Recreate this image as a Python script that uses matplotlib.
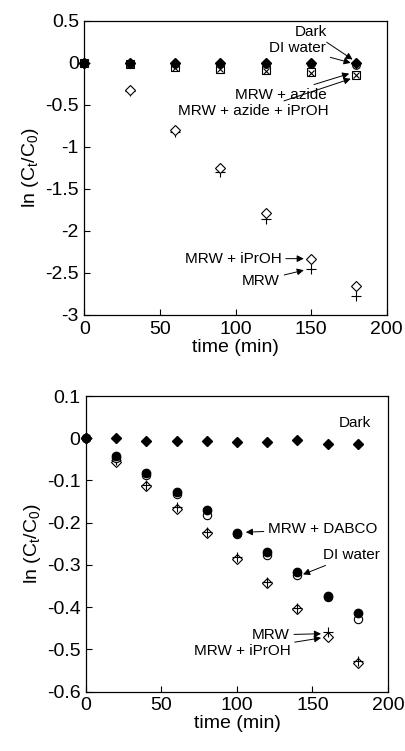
import numpy as np
import matplotlib
matplotlib.use('Agg')
import matplotlib.pyplot as plt

plt.rcParams['font.family'] = ['Liberation Sans', 'DejaVu Sans']
plt.rcParams['mathtext.default'] = 'regular'

# top panel
t_top = [0, 30, 60, 90, 120, 150, 180]
dark_top = [0, 0.0, 0.0, 0.0, 0.0, 0.0, 0.0]
di_top = [0, -0.01, -0.015, -0.02, -0.02, -0.02, -0.03]
azide_top = [0, -0.02, -0.05, -0.08, -0.09, -0.11, -0.14]
azide_ipr_top = [0, -0.02, -0.06, -0.08, -0.10, -0.12, -0.15]
mrw_ipr_top = [0, -0.32, -0.80, -1.25, -1.79, -2.33, -2.66]
mrw_top = [0, -0.33, -0.82, -1.30, -1.86, -2.45, -2.78]

# bottom panel
t_bot = [0, 20, 40, 60, 80, 100, 120, 140, 160, 180]
dark_bot = [0, 0.0, -0.006, -0.006, -0.006, -0.01, -0.008, -0.004, -0.013, -0.013]
dabco_bot = [0, -0.042, -0.083, -0.128, -0.170, -0.224, -0.269, -0.316, -0.374, -0.415]
di_bot = [0, -0.048, -0.086, -0.132, -0.182, -0.226, -0.277, -0.325, -0.376, -0.429]
mrw_bot = [0, -0.052, -0.110, -0.164, -0.222, -0.282, -0.341, -0.402, -0.460, -0.528]
mrw_ipr_bot = [0, -0.056, -0.112, -0.167, -0.225, -0.285, -0.344, -0.405, -0.470, -0.532]

fig = plt.figure(figsize=(4.05, 7.51), dpi=100)
ax1 = fig.add_axes([0.2086, 0.5806, 0.746, 0.3918])
ax2 = fig.add_axes([0.2123, 0.0792, 0.7457, 0.3935])

ylab = 'ln (C$_t$/C$_0$)'
arrow = dict(arrowstyle='-|>', color='black', lw=0.7, mutation_scale=10, shrinkA=1, shrinkB=2)

kw = dict(ls='none', clip_on=False, zorder=3)
ax1.plot(t_top, mrw_top, marker='+', ms=7, mew=0.8, color='black', **kw)
ax1.plot(t_top, mrw_ipr_top, marker='D', ms=5, mew=0.8, mfc='white', mec='black', **kw)
ax1.plot(t_top, azide_top, marker='s', ms=5.5, mew=0.8, mfc='white', mec='black', **kw)
ax1.plot(t_top, azide_ipr_top, marker='x', ms=4.5, mew=0.8, color='black', **kw)
ax1.plot(t_top, di_top, marker='o', ms=5.5, mew=0.8, mfc='white', mec='black', **kw)
ax1.plot(t_top, dark_top, marker='D', ms=5, color='black', **kw)

ax1.set_xlim(0, 200)
ax1.set_ylim(-3, 0.5)
ax1.set_yticks(np.arange(-3, 0.51, 0.5))
ax1.set_yticklabels(['-3', '-2.5', '-2', '-1.5', '-1', '-0.5', '0', '0.5'])
ax1.set_xticks([0, 50, 100, 150, 200])
ax1.set_xlabel('time (min)', fontsize=14, labelpad=1)
ax1.set_ylabel(ylab, fontsize=14, labelpad=3)

fs = 11
ax1.annotate('Dark', xy=(179, 0.02), xytext=(160.5, 0.37), ha='right', va='center', fontsize=fs, arrowprops=arrow)
ax1.annotate('DI water', xy=(178, -0.01), xytext=(160, 0.17), ha='right', va='center', fontsize=fs, arrowprops=arrow)
ax1.annotate('MRW + azide', xy=(177, -0.12), xytext=(160.5, -0.38), ha='right', va='center', fontsize=fs, arrowprops=arrow)
ax1.annotate('MRW + azide + iPrOH', xy=(178, -0.18), xytext=(161.5, -0.575), ha='right', va='center', fontsize=fs, arrowprops=arrow)
ax1.annotate('MRW + iPrOH', xy=(147, -2.33), xytext=(130.5, -2.33), ha='right', va='center', fontsize=fs, arrowprops=arrow)
ax1.annotate('MRW', xy=(147, -2.46), xytext=(129.5, -2.59), ha='right', va='center', fontsize=fs, arrowprops=arrow)

ax2.plot(t_bot, mrw_ipr_bot, marker='D', ms=5, mew=0.8, mfc='white', mec='black', **kw)
ax2.plot(t_bot, mrw_bot, marker='+', ms=7, mew=0.8, color='black', **kw)
ax2.plot(t_bot, di_bot, marker='o', ms=6, mew=0.8, mfc='white', mec='black', **kw)
ax2.plot(t_bot, dabco_bot, marker='o', ms=6, color='black', **kw)
ax2.plot(t_bot, dark_bot, marker='D', ms=5, color='black', **kw)

ax2.set_xlim(0, 200)
ax2.set_ylim(-0.6, 0.1)
ax2.set_yticks(np.round(np.arange(-0.6, 0.11, 0.1), 1))
ax2.set_yticklabels(['-0.6', '-0.5', '-0.4', '-0.3', '-0.2', '-0.1', '0', '0.1'])
ax2.set_xticks([0, 50, 100, 150, 200])
ax2.set_xlabel('time (min)', fontsize=14, labelpad=1)
ax2.set_ylabel(ylab, fontsize=14, labelpad=3)

ax2.text(178, 0.037, 'Dark', ha='center', va='center', fontsize=fs)
ax2.annotate('MRW + DABCO', xy=(104, -0.223), xytext=(120.5, -0.215), ha='left', va='center', fontsize=fs, arrowprops=arrow)
ax2.annotate('DI water', xy=(142, -0.325), xytext=(157, -0.277), ha='left', va='center', fontsize=fs, arrowprops=arrow)
ax2.annotate('MRW', xy=(157.5, -0.463), xytext=(135, -0.466), ha='right', va='center', fontsize=fs, arrowprops=arrow)
ax2.annotate('MRW + iPrOH', xy=(157.5, -0.472), xytext=(135.5, -0.503), ha='right', va='center', fontsize=fs, arrowprops=arrow)

for ax in (ax1, ax2):
    ax.tick_params(direction='in', length=4, width=0.8, labelsize=14, top=False, right=False, pad=4)
    for s in ax.spines.values():
        s.set_linewidth(0.9)

fig.savefig('out.png', dpi=100)
